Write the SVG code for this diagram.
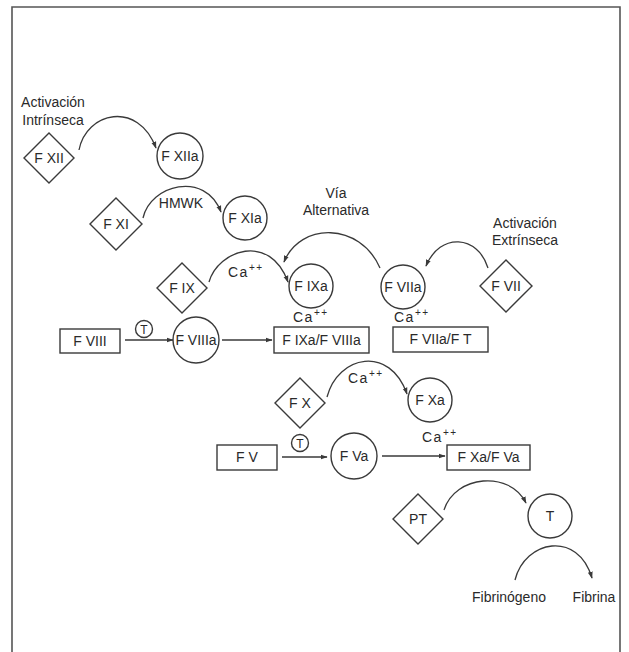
<svg xmlns="http://www.w3.org/2000/svg" width="629" height="652" viewBox="0 0 629 652">
  <style>
    text { font-family: "Liberation Sans", Arial, sans-serif; font-size: 14px; fill: #2a2a2a; }
    .c { text-anchor: middle; }
    .shape { fill: none; stroke: #3a3a3a; stroke-width: 1.4; }
    .link { fill: none; stroke: #3a3a3a; stroke-width: 1.3; marker-end: url(#arrow); }
    .sup { font-size: 10px; }
  </style>
  <defs>
    <marker id="arrow" viewBox="0 0 10 10" refX="9" refY="5" markerWidth="7" markerHeight="7" markerUnits="userSpaceOnUse" orient="auto">
      <path d="M0,1.5 L10,5 L0,8.5 z" fill="#3a3a3a"/>
    </marker>
  </defs>
  <rect width="629" height="652" fill="#ffffff"/>

  <!-- outer frame (open at the bottom) -->
  <path d="M12,656 L12,7 L620,7 L620,656" fill="none" stroke="#555" stroke-width="1.6"/>

  <!-- labels -->
  <g id="labels">
    <text class="c" x="53" y="107">Activación</text>
    <text class="c" x="53" y="125">Intrínseca</text>
    <text class="c" x="336" y="198">Vía</text>
    <text class="c" x="336" y="215">Alternativa</text>
    <text class="c" x="525" y="228">Activación</text>
    <text class="c" x="525" y="245">Extrínseca</text>
    <text class="c" x="181" y="208">HMWK</text>
    <text x="228" y="277" letter-spacing="1.5">Ca<tspan class="sup" dy="-6">++</tspan></text>
    <text x="293" y="322" letter-spacing="1.5">Ca<tspan class="sup" dy="-6">++</tspan></text>
    <text x="394" y="322" letter-spacing="1.5">Ca<tspan class="sup" dy="-6">++</tspan></text>
    <text x="348" y="383" letter-spacing="1.5">Ca<tspan class="sup" dy="-6">++</tspan></text>
    <text x="422" y="442" letter-spacing="1.5">Ca<tspan class="sup" dy="-6">++</tspan></text>
    <text class="c" x="509" y="602">Fibrinógeno</text>
    <text class="c" x="594" y="602">Fibrina</text>
  </g>

  <!-- connectors -->
  <g id="connectors">
    <path class="link" d="M79,150 C86,112 138,100 156,148"/>
    <path class="link" d="M143,218 C150,185 205,170 221,212"/>
    <path class="link" d="M209,282 C218,250 270,232 288,282"/>
    <path class="link" d="M380,268 C360,222 300,222 284,262"/>
    <path class="link" d="M488,268 C478,235 440,232 426,266"/>
    <path class="link" d="M327,397 C338,355 390,345 407,394"/>
    <path class="link" d="M444,510 C455,475 510,470 526,503"/>
    <path class="link" d="M515,580 C525,540 578,530 592,578"/>
    <path class="link" d="M125,340 L173,340"/>
    <path class="link" d="M222,340 L272,340"/>
    <path class="link" d="M282,457 L327,457"/>
    <path class="link" d="M382,456 L445,456"/>
  </g>

  <!-- nodes -->
  <g id="fxii">
    <path class="shape" d="M49,133 L74,158 L49,183 L24,158 z"/>
    <text class="c" x="49" y="163">F XII</text>
  </g>
  <g id="fxiia">
    <circle class="shape" cx="180" cy="156" r="23"/>
    <text class="c" x="180" y="161">F XIIa</text>
  </g>
  <g id="fxi">
    <path class="shape" d="M116,198 L142,224 L116,250 L90,224 z"/>
    <text class="c" x="116" y="229">F XI</text>
  </g>
  <g id="fxia">
    <circle class="shape" cx="245" cy="218" r="22"/>
    <text class="c" x="245" y="223">F XIa</text>
  </g>
  <g id="fix">
    <path class="shape" d="M182,263 L207,288 L182,313 L157,288 z"/>
    <text class="c" x="182" y="293">F IX</text>
  </g>
  <g id="fixa">
    <circle class="shape" cx="311" cy="286" r="22"/>
    <text class="c" x="311" y="291">F IXa</text>
  </g>
  <g id="fviia">
    <circle class="shape" cx="403" cy="287" r="22"/>
    <text class="c" x="403" y="292">F VIIa</text>
  </g>
  <g id="fvii">
    <path class="shape" d="M506,260 L532,286 L506,312 L480,286 z"/>
    <text class="c" x="506" y="291">F VII</text>
  </g>
  <g id="fviii">
    <rect class="shape" x="60" y="329" width="60" height="24"/>
    <text class="c" x="90" y="346">F VIII</text>
  </g>
  <g id="thrombin1">
    <circle class="shape" cx="144" cy="329" r="8.5"/>
    <text class="c" x="144" y="334" style="font-size:12px">T</text>
  </g>
  <g id="fviiia">
    <circle class="shape" cx="196" cy="340" r="23"/>
    <text class="c" x="196" y="345">F VIIIa</text>
  </g>
  <g id="tenase">
    <rect class="shape" x="274" y="327" width="95" height="26"/>
    <text class="c" x="321.5" y="345">F IXa/F VIIIa</text>
  </g>
  <g id="fviia-ft">
    <rect class="shape" x="393" y="327" width="95" height="25"/>
    <text class="c" x="440.5" y="344">F VIIa/F T</text>
  </g>
  <g id="fx">
    <path class="shape" d="M300,378 L325,403 L300,428 L275,403 z"/>
    <text class="c" x="300" y="408">F X</text>
  </g>
  <g id="fxa">
    <circle class="shape" cx="430" cy="400" r="22"/>
    <text class="c" x="430" y="405">F Xa</text>
  </g>
  <g id="fv">
    <rect class="shape" x="217" y="445" width="60" height="25"/>
    <text class="c" x="247" y="462">F V</text>
  </g>
  <g id="thrombin2">
    <circle class="shape" cx="300" cy="443" r="8.5"/>
    <text class="c" x="300" y="448" style="font-size:12px">T</text>
  </g>
  <g id="fva">
    <circle class="shape" cx="354" cy="456" r="23"/>
    <text class="c" x="354" y="461">F Va</text>
  </g>
  <g id="prothrombinase">
    <rect class="shape" x="447" y="445" width="83" height="25"/>
    <text class="c" x="488.5" y="462">F Xa/F Va</text>
  </g>
  <g id="pt">
    <path class="shape" d="M418,494 L443,519 L418,544 L393,519 z"/>
    <text class="c" x="418" y="524">PT</text>
  </g>
  <g id="t">
    <circle class="shape" cx="550" cy="516" r="22"/>
    <text class="c" x="550" y="521">T</text>
  </g>
</svg>
